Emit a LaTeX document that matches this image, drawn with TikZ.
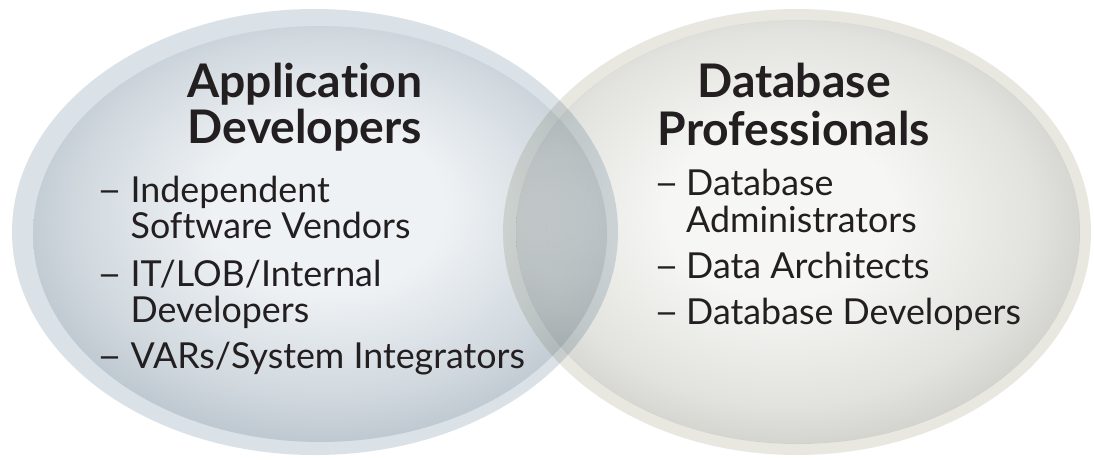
\documentclass[tikz,border=0pt]{standalone}
\usepackage{fontspec}
\setmainfont{Lato}[Ligatures=NoCommon]
\definecolor{lrim}{HTML}{DAE2E8}
\definecolor{lc0}{HTML}{EFF2F5}
\definecolor{lc1}{HTML}{D0D8DE}
\definecolor{lc2}{HTML}{AFBBC5}
\definecolor{rrim}{HTML}{E8E8E1}
\definecolor{rc0}{HTML}{F6F6F4}
\definecolor{rc1}{HTML}{E2E2DE}
\definecolor{rc2}{HTML}{C6C7C1}
\definecolor{txt}{HTML}{231F20}
\pgfdeclareradialshading{leftsh}{\pgfpoint{1bp}{4bp}}{color(0bp)=(lc0); color(10bp)=(lc0); color(22bp)=(lc1); color(31bp)=(lc2); color(50bp)=(lc2)}
\pgfdeclareradialshading{rightsh}{\pgfpoint{-2bp}{3bp}}{color(0bp)=(rc0); color(10bp)=(rc0); color(22bp)=(rc1); color(31bp)=(rc2); color(50bp)=(rc2)}
\tikzset{
  ttl/.style={font=\fontsize{46.3}{46}\selectfont\bfseries, text=txt, inner sep=0pt, anchor=base},
  itm/.style={font=\fontsize{35.8}{36}\selectfont, text=txt, inner sep=0pt, anchor=base west},
  dsh/.style={itm},
}
\newcommand{\itemdash}{\scalebox{1.2}[1]{–}}
\begin{document}
\begin{tikzpicture}[x=1pt,y=-1pt]
\useasboundingbox[fill=white] (0,0) rectangle (1094,459);
% left ellipse
\fill[lrim] (315,232) ellipse [x radius=303pt, y radius=223pt];
\shade[shading=leftsh] (320,234) ellipse [x radius=287pt, y radius=208pt];
% right ellipse (multiply for overlap)
\begin{scope}[blend mode=multiply]
\fill[rrim, even odd rule] (797,232) ellipse [x radius=294pt, y radius=223pt]
                           (798,232) ellipse [x radius=282pt, y radius=212pt];
\shade[shading=rightsh] (798,232) ellipse [x radius=282pt, y radius=212pt];
\end{scope}
% left text
\node[ttl] (lt1) at (305,97) {Application};
\node[ttl] (lt2) at (305,143) {Developers};
\node[dsh] (ld1) at (97,202) {\itemdash};
\node[itm] (li1) at (130.5,202) {Independent};
\node[itm] (li1b) at (130.5,238) {Software Vendors};
\node[dsh] (ld2) at (97,286) {\itemdash};
\node[itm] (li2) at (130.5,286) {IT/LOB/Internal};
\node[itm] (li2b) at (130.5,322) {Developers};
\node[dsh] (ld3) at (97,368) {\itemdash};
\node[itm] (li3) at (130.5,368) {VARs/System Integrators};
% right text
\node[ttl] (rt1) at (794,97) {Database};
\node[ttl] (rt2) at (794,145) {Professionals};
\node[dsh] (rd1) at (654,195) {\itemdash};
\node[itm] (ri1) at (686,195) {Database};
\node[itm] (ri1b) at (686,232) {Administrators};
\node[dsh] (rd2) at (654,278) {\itemdash};
\node[itm] (ri2) at (686,278) {Data Architects};
\node[dsh] (rd3) at (654,324) {\itemdash};
\node[itm] (ri3) at (686,324) {Database Developers};
\end{tikzpicture}
\end{document}
